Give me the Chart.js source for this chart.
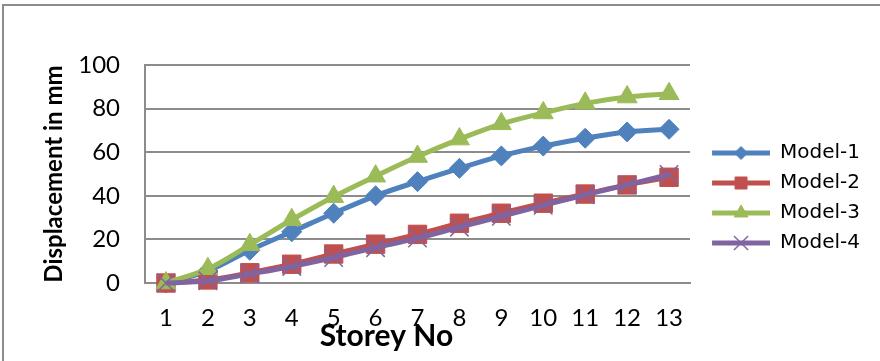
<!DOCTYPE html>
<html>
<head>
<meta charset="utf-8">
<script src="https://cdn.jsdelivr.net/npm/chart.js@4/dist/chart.umd.min.js"></script>
<style>
  html, body { margin: 0; padding: 0; background: #fff; }
  #wrap { width: 880px; height: 361px; position: relative; }
</style>
</head>
<body>
<div id="wrap"><canvas id="c" width="880" height="361"></canvas></div>
<script>
// Storey numbers along the x axis
const storeys = ['1', '2', '3', '4', '5', '6', '7', '8', '9', '10', '11', '12', '13'];

// Storey displacement (mm) for each model
const model1 = [0, 5.5, 15, 23.5, 32, 40, 46.5, 52.6, 58.3, 62.8, 66.4, 69.3, 70.5];
const model2 = [0, 1.4, 4.7, 8.6, 13.3, 17.8, 22.3, 27.4, 32, 36.6, 40.8, 45, 48.5];
const model3 = [0, 6.5, 17.5, 29, 39.6, 49, 58, 66, 73, 78, 82.4, 85.3, 86.8];
const model4 = [0, 1, 4.2, 7.6, 11.7, 16.2, 20.6, 25.6, 30.6, 35.6, 40.5, 45, 49.8];

const seriesNames = ['Model-1', 'Model-2', 'Model-3', 'Model-4'];
const yTicks = [0, 20, 40, 60, 80, 100];

const COLORS = ['#4F81BD', '#C0504D', '#9BBB59', '#8064A2'];
const STYLES = ['rectRot', 'rect', 'triangle', 'crossRot'];
const RADII = [10, 13, 11.5, 13];
const LEGEND_RADII = [6.5, 8.5, 8, 10];
const GRID = '#8c8c8c';

// Reserved sizes for the two axes
const Y_AXIS_WIDTH = 115;
const X_AXIS_HEIGHT = 48;

// Line-plus-marker swatch used as the legend symbol
function legendSwatch(color, style, radius) {
  const cv = document.createElement('canvas');
  cv.width = 70; cv.height = 20;
  const g = cv.getContext('2d');
  g.strokeStyle = color;
  g.lineWidth = 5;
  g.beginPath();
  g.moveTo(12, 10); g.lineTo(70, 10);
  g.stroke();
  g.fillStyle = color;
  g.lineWidth = style === 'crossRot' ? 1.5 : 1;
  Chart.helpers.drawPoint(g, { pointStyle: style, radius: radius, rotation: 0, borderWidth: g.lineWidth }, 41, 10);
  return cv;
}

function makeSet(i, values) {
  const cross = STYLES[i] === 'crossRot';
  return {
    label: seriesNames[i],
    data: values,
    borderColor: COLORS[i],
    backgroundColor: COLORS[i],
    borderWidth: 5,
    tension: 0.35,
    pointStyle: STYLES[i],
    pointRadius: RADII[i],
    pointHoverRadius: RADII[i],
    pointBackgroundColor: COLORS[i],
    pointBorderColor: COLORS[i],
    pointBorderWidth: cross ? 1.5 : 1,
    clip: false,
    order: 4 - i
  };
}

// Page frame and x-axis caption
const framePlugin = {
  id: 'frame',
  beforeDraw(chart) {
    const ctx = chart.ctx;
    ctx.save();
    ctx.fillStyle = '#fff';
    ctx.fillRect(0, 0, chart.width, chart.height);
    ctx.strokeStyle = GRID;
    ctx.lineWidth = 2;
    ctx.strokeRect(3, 5, chart.width + 20, chart.height + 20);
    ctx.restore();
  },
  afterDraw(chart) {
    const ctx = chart.ctx;
    const area = chart.chartArea;
    ctx.save();
    ctx.font = 'bold 30px Lato';
    ctx.fillStyle = '#000';
    ctx.textAlign = 'center';
    ctx.textBaseline = 'alphabetic';
    ctx.fillText('Storey No', area.left + (area.right - area.left) * 0.443, 346);
    ctx.restore();
  }
};

new Chart(document.getElementById('c'), {
  type: 'line',
  data: {
    labels: storeys,
    datasets: [makeSet(0, model1), makeSet(1, model2), makeSet(2, model3), makeSet(3, model4)]
  },
  options: {
    responsive: false,
    animation: false,
    events: [],
    layout: { padding: { left: 30, top: 65, right: 10, bottom: 30 } },
    scales: {
      x: {
        offset: true,
        afterFit(scale) { scale.height = X_AXIS_HEIGHT; },
        grid: { display: false, drawTicks: false },
        border: { display: true, color: GRID, width: 2 },
        ticks: { color: '#000', padding: 23, font: { family: 'Lato', size: 24, lineHeight: 1 }, maxRotation: 0 }
      },
      y: {
        min: 0,
        max: 100,
        afterBuildTicks(scale) { scale.ticks = yTicks.map(v => ({ value: v })); },
        afterFit(scale) { scale.width = Y_AXIS_WIDTH; },
        grid: { color: GRID, lineWidth: 2, drawTicks: false },
        border: { display: true, color: GRID, width: 2 },
        ticks: { color: '#000', padding: 25, font: { family: 'Lato', size: 24 } },
        title: {
          display: true,
          text: 'Displacement in mm',
          color: '#000',
          font: { family: 'Lato', size: 24, weight: 'bold' },
          padding: { top: 10, bottom: 4 }
        }
      }
    },
    plugins: {
      tooltip: { enabled: false },
      legend: {
        position: 'right',
        labels: {
          color: '#000',
          font: { family: 'DejaVu Sans', size: 20 },
          padding: 10,
          usePointStyle: true,
          pointStyleWidth: 70,
          sort: (a, b) => a.datasetIndex - b.datasetIndex,
          generateLabels(chart) {
            const items = Chart.defaults.plugins.legend.labels.generateLabels(chart);
            items.forEach(it => {
              const i = it.datasetIndex;
              it.pointStyle = legendSwatch(COLORS[i], STYLES[i], LEGEND_RADII[i]);
            });
            return items;
          }
        }
      }
    }
  },
  plugins: [framePlugin]
});
</script>
</body>
</html>
